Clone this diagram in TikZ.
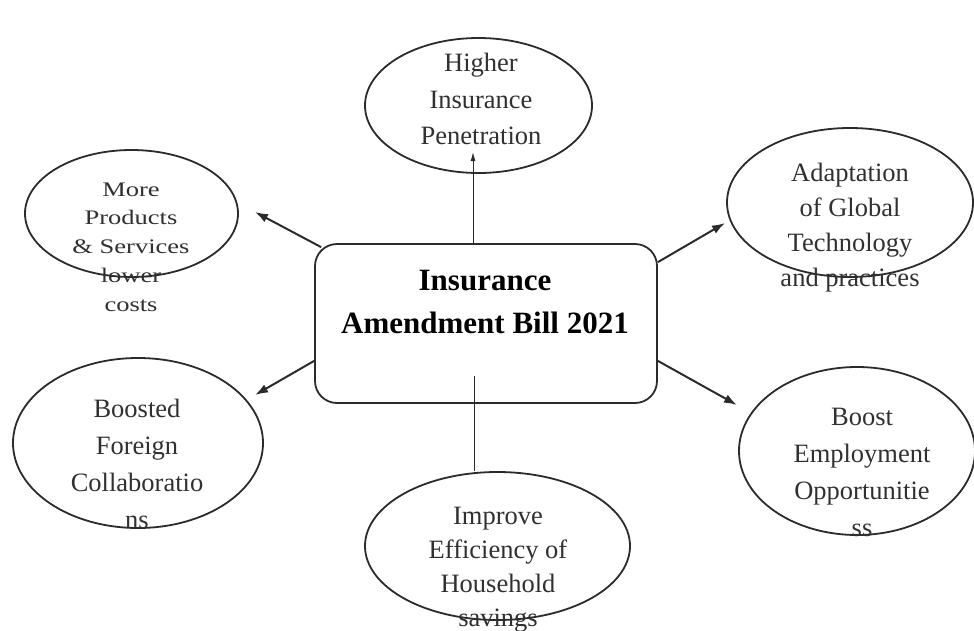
\documentclass[tikz,border=0pt]{standalone}
\usepackage{fontspec}
\setmainfont{Liberation Serif}
\usetikzlibrary{shapes.geometric,arrows.meta}
\definecolor{ink}{HTML}{2B2B2B}
\definecolor{txt}{HTML}{303030}
\tikzset{
  bubble/.style={ellipse, draw=ink, line width=1.8pt, inner sep=0pt},
  btext/.style={align=center, text=txt, inner sep=0pt,
                font=\fontsize{26.5}{#1}\selectfont},
  btext/.default=36.5,
  hub/.style={rectangle, rounded corners=22pt, draw=ink, line width=1.8pt,
              minimum width=342pt, minimum height=159pt, inner sep=0pt},
  title/.style={align=center, text=black, inner sep=0pt,
                font=\fontsize{31}{43}\selectfont\bfseries},
  push/.style={draw=ink, line width=2pt, -{Latex[length=13pt,width=9pt]}},
  stem/.style={draw=ink, line width=1pt},
}
\begin{document}
\begin{tikzpicture}[x=1pt, y=-1pt]
  \useasboundingbox (0,0) rectangle (974,630);

  % central box
  \node[hub] (bill) at (486,323.5) {};
  \node[title] (billtxt) at (485,301.5) {Insurance\\Amendment Bill 2021};

  % outcome ellipses
  \node[bubble, minimum width=227pt, minimum height=135pt] (pen)    at (478.5,105.5) {};
  \node[bubble, minimum width=213pt, minimum height=127pt] (prod)   at (131.5,213.5) {};
  \node[bubble, minimum width=246pt, minimum height=149pt] (tech)   at (850,202.5) {};
  \node[bubble, minimum width=250pt, minimum height=170pt] (collab) at (138,443) {};
  \node[bubble, minimum width=236pt, minimum height=168pt] (jobs)   at (857,451) {};
  \node[bubble, minimum width=265pt, minimum height=148pt] (house)  at (497.5,546) {};

  % ellipse texts
  \node[btext] (pentxt) at (481,99) {Higher\\Insurance\\Penetration};
  \node[btext=37] (prodtxt) at (131,248)
    {\scalebox{1}[0.78]{\begin{tabular}{@{}c@{}}More\\Products\\\& Services\\lower\\costs\end{tabular}}};
  \node[btext=35] (techtxt) at (850,227.5) {Adaptation\\of Global\\Technology\\and practices};
  \node[btext=37] (collabtxt) at (137,464) {Boosted\\Foreign\\Collaboratio\\ns};
  \node[btext=37] (jobstxt) at (862,472.5) {Boost\\Employment\\Opportunitie\\ss};
  \node[btext=34] (housetxt) at (498,569.5) {Improve\\Efficiency of\\Household\\savings};

  % arrow ends
  \coordinate (tipPen)    at (473,152);
  \coordinate (tipProd)   at (255,212);
  \coordinate (tipTech)   at (725,223);
  \coordinate (tipCollab) at (255,395);
  \coordinate (tipJobs)   at (737,405);
  \coordinate (houseTop)  at ([xshift=-23.5pt]house.north);

  % connectors
  \draw[stem, -{Latex[length=9pt,width=5pt]}] ([xshift=-13pt]bill.north) -- (tipPen);
  \draw[push] ([shift={(7,4)}]bill.north west) -- (tipProd);
  \draw[push] ([shift={(0,19)}]bill.north east) -- (tipTech);
  \draw[push] ([shift={(0,-43)}]bill.south west) -- (tipCollab);
  \draw[push] ([shift={(0,-43)}]bill.south east) -- (tipJobs);
  \draw[stem] ([shift={(-12,-28)}]bill.south) -- (houseTop);
\end{tikzpicture}
\end{document}
